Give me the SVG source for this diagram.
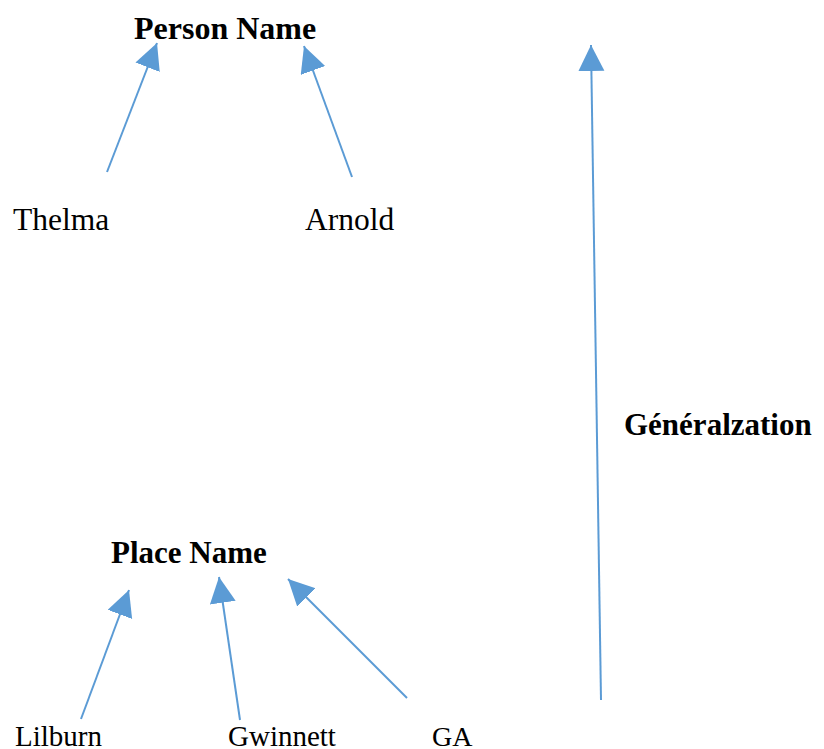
<svg xmlns="http://www.w3.org/2000/svg" width="824" height="749" viewBox="0 0 824 749">
<style>
text{font-family:"Liberation Serif","Times New Roman",serif;fill:#000}
.b{font-weight:bold}
.c{stroke:#5B9BD5;stroke-width:2;fill:none;marker-end:url(#ah)}
</style>
<defs>
<marker id="ah" markerUnits="userSpaceOnUse" markerWidth="27" markerHeight="27" refX="26" refY="13" orient="auto" viewBox="0 0 27 27">
<path d="M0,0 L26,13 L0,26 z" fill="#5B9BD5"/>
</marker>
</defs>
<rect width="824" height="749" fill="#fff"/>
<g id="connectors">
<line class="c" x1="107" y1="172" x2="157" y2="43"/>
<line class="c" x1="352" y1="177" x2="304" y2="46"/>
<line class="c" x1="601" y1="700" x2="591" y2="45"/>
<line class="c" x1="81" y1="719" x2="129" y2="590"/>
<line class="c" x1="240" y1="720" x2="219" y2="577"/>
<line class="c" x1="407" y1="698" x2="288" y2="579"/>
</g>
<g id="person-name"><text class="b" x="134" y="39" font-size="32">Person Name</text></g>
<g id="thelma"><text x="13" y="230" font-size="31.5">Thelma</text></g>
<g id="arnold"><text x="305" y="230" font-size="31.5">Arnold</text></g>
<g id="generalization"><text class="b" x="624" y="435" font-size="31">Généralzation</text></g>
<g id="place-name"><text class="b" x="111" y="563" font-size="31">Place Name</text></g>
<g id="lilburn"><text x="15" y="746" font-size="29">Lilburn</text></g>
<g id="gwinnett"><text x="228" y="746" font-size="29">Gwinnett</text></g>
<g id="ga"><text x="432" y="746" font-size="28">GA</text></g>
</svg>
